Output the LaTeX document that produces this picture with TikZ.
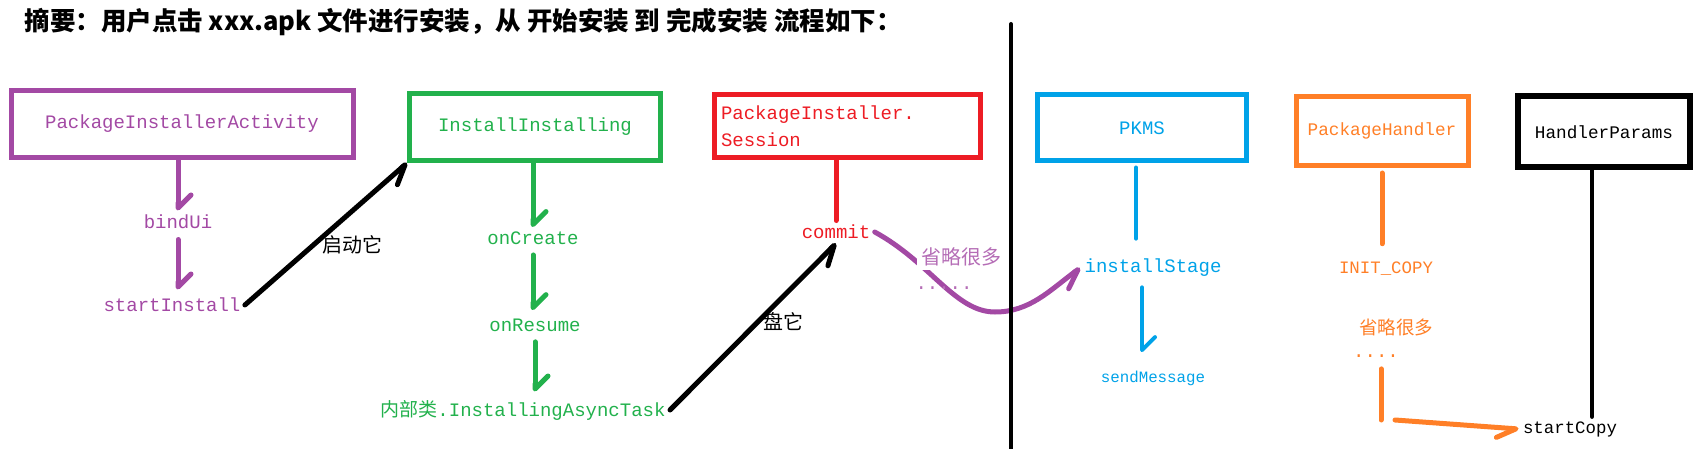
\documentclass[tikz,border=0pt]{standalone}
\usepackage{fontspec}
\usepackage{tikz}
\usetikzlibrary{arrows.meta}
\setmonofont{Liberation Mono}
\newfontfamily\cjk{Noto Sans CJK SC}
\definecolor{purp}{RGB}{163,73,164}
\definecolor{grn}{RGB}{34,177,76}
\definecolor{rd}{RGB}{237,28,36}
\definecolor{blu}{RGB}{0,162,232}
\definecolor{orng}{RGB}{255,127,39}

\begin{document}
\begin{tikzpicture}[x=1pt,y=-1pt,line cap=round,line width=5pt,
		every node/.style={font=\ttfamily\fontsize{19}{27}\selectfont,inner sep=2pt},
		box/.style={draw,line width=5pt,line cap=butt},
		cjktext/.style={font=\cjk\fontsize{20}{24}\selectfont},
		down/.style={-{Straight Barb[left,round,length=13pt,width=26pt]}},
		diag/.style={-{Straight Barb[right,round,length=19pt,width=20pt]}}]
		\useasboundingbox (0,0) rectangle (1700,449);

		\node[anchor=west,font=\cjk\bfseries\fontsize{25.5}{30}\selectfont] (title) at (20,22)
			{摘要：用户点击 xxx.apk 文件进行安装，从 开始安装 到 完成安装 流程如下：};

		% classes
		\node[box,draw=purp,text=purp,minimum width=342pt,minimum height=67pt] (pia) at (182,124) {PackageInstallerActivity};
		\node[box,draw=grn,text=grn,minimum width=251pt,minimum height=67pt] (ii) at (535,127) {InstallInstalling};
		\node[box,draw=rd,text=rd,text width=252pt,inner sep=7pt,align=left,minimum height=63pt] (session) at (847,126) {PackageInstaller.\\Session};
		\node[box,draw=blu,text=blu,minimum width=209pt,minimum height=66pt] (pkms) at (1142,128) {PKMS};
		\node[box,draw=orng,text=orng,minimum width=172pt,minimum height=69pt,font=\ttfamily\fontsize{17.7}{20}\selectfont] (handler) at (1382,131) {PackageHandler};
		\node[box,line width=6pt,minimum width=172pt,minimum height=71pt,font=\ttfamily\fontsize{17.7}{20}\selectfont] (params) at (1604,132) {HandlerParams};

		% methods
		\node[text=purp] (bindui) at (178,222) {bindUi};
		\node[text=purp] (startinstall) at (172,305) {startInstall};
		\node[text=grn] (oncreate) at (533,238) {onCreate};
		\node[text=grn] (onresume) at (535,325) {onResume};
		\node[text=grn] (asynctask) at (523,410) {{\cjk 内部类}.InstallingAsyncTask};
		\node[text=rd] (commit) at (836,232) {commit};
		\node[text=blu] (installstage) at (1153,268) {installStage};
		\node[text=blu,font=\ttfamily\fontsize{15.8}{18}\selectfont] (sendmsg) at (1153,378) {sendMessage};
		\node[text=orng,font=\ttfamily\fontsize{17.4}{20}\selectfont] (initcopy) at (1386,269) {INIT\_COPY};
		\node[text=orng,font=\cjk\fontsize{18.5}{22}\selectfont] (omit2) at (1396,327) {省略很多};
		\node[text=orng] (odots) at (1376,356) {....};
		\node[font=\ttfamily\fontsize{17.4}{20}\selectfont] (startcopy) at (1570,429) {startCopy};
		\node[cjktext] (qidong) at (352,245) {启动它};
		\node[cjktext] (pan) at (783,322) {盘它};
		\coordinate (obend) at (1381,420);

		% purple / green steps
		\draw[down,purp] (bindui.north |- pia.south) -- (bindui.north);
		\draw[down,purp,shorten <=6pt,shorten >=4pt] (bindui.south) -- (bindui.south |- startinstall.north);
		\draw[down,grn] (oncreate.north |- ii.south) -- (oncreate.north);
		\foreach \a/\b in {oncreate/onresume, onresume/asynctask}
			\draw[down,grn,shorten <=6pt,shorten >=4pt] (\a.south) -- (\a.south |- \b.north);

		% calls between classes
		\draw[diag] (startinstall.east) -- (ii.south west);
		\draw[diag] (asynctask.east) -- (commit.south);
		\draw[rd] (commit.north |- session.south) -- (commit.north);
		\draw[diag,purp] (commit.east) .. controls (930,262) and (955,312) .. (995,312)
			.. controls (1030,312) and (1050,290) .. (installstage.west);
		\node[text=purp!80,fill=white,inner sep=4pt,cjktext] (omit1) at (961,257) {省略很多};
		\node[text=purp!80] (pdots) at (944,288) {.....};

		% right half
		\draw[line width=4pt] (1011,24) -- (1011,449);
		\draw[blu,line width=4pt,shorten <=4pt,shorten >=16pt] ([xshift=-6pt]pkms.south) -- ([xshift=-6pt]pkms.south |- installstage.north);
		\draw[down,blu,line width=4pt,shorten <=6pt,shorten >=14pt] ([xshift=-11pt]installstage.south) -- ([xshift=-11pt]installstage.south |- sendmsg.north);
		\draw[orng,shorten <=5pt,shorten >=14pt] (handler.south) -- (handler.south |- initcopy.north);
		\draw[orng] ([yshift=-7pt]odots.south -| obend) -- (obend);
		\draw[orng,diag] ([xshift=14pt]obend) -- (startcopy.west);
		\draw[line width=4pt] ([xshift=-12pt]params.south) -- ([xshift=22pt]startcopy.north);
	\end{tikzpicture}
\end{document}
